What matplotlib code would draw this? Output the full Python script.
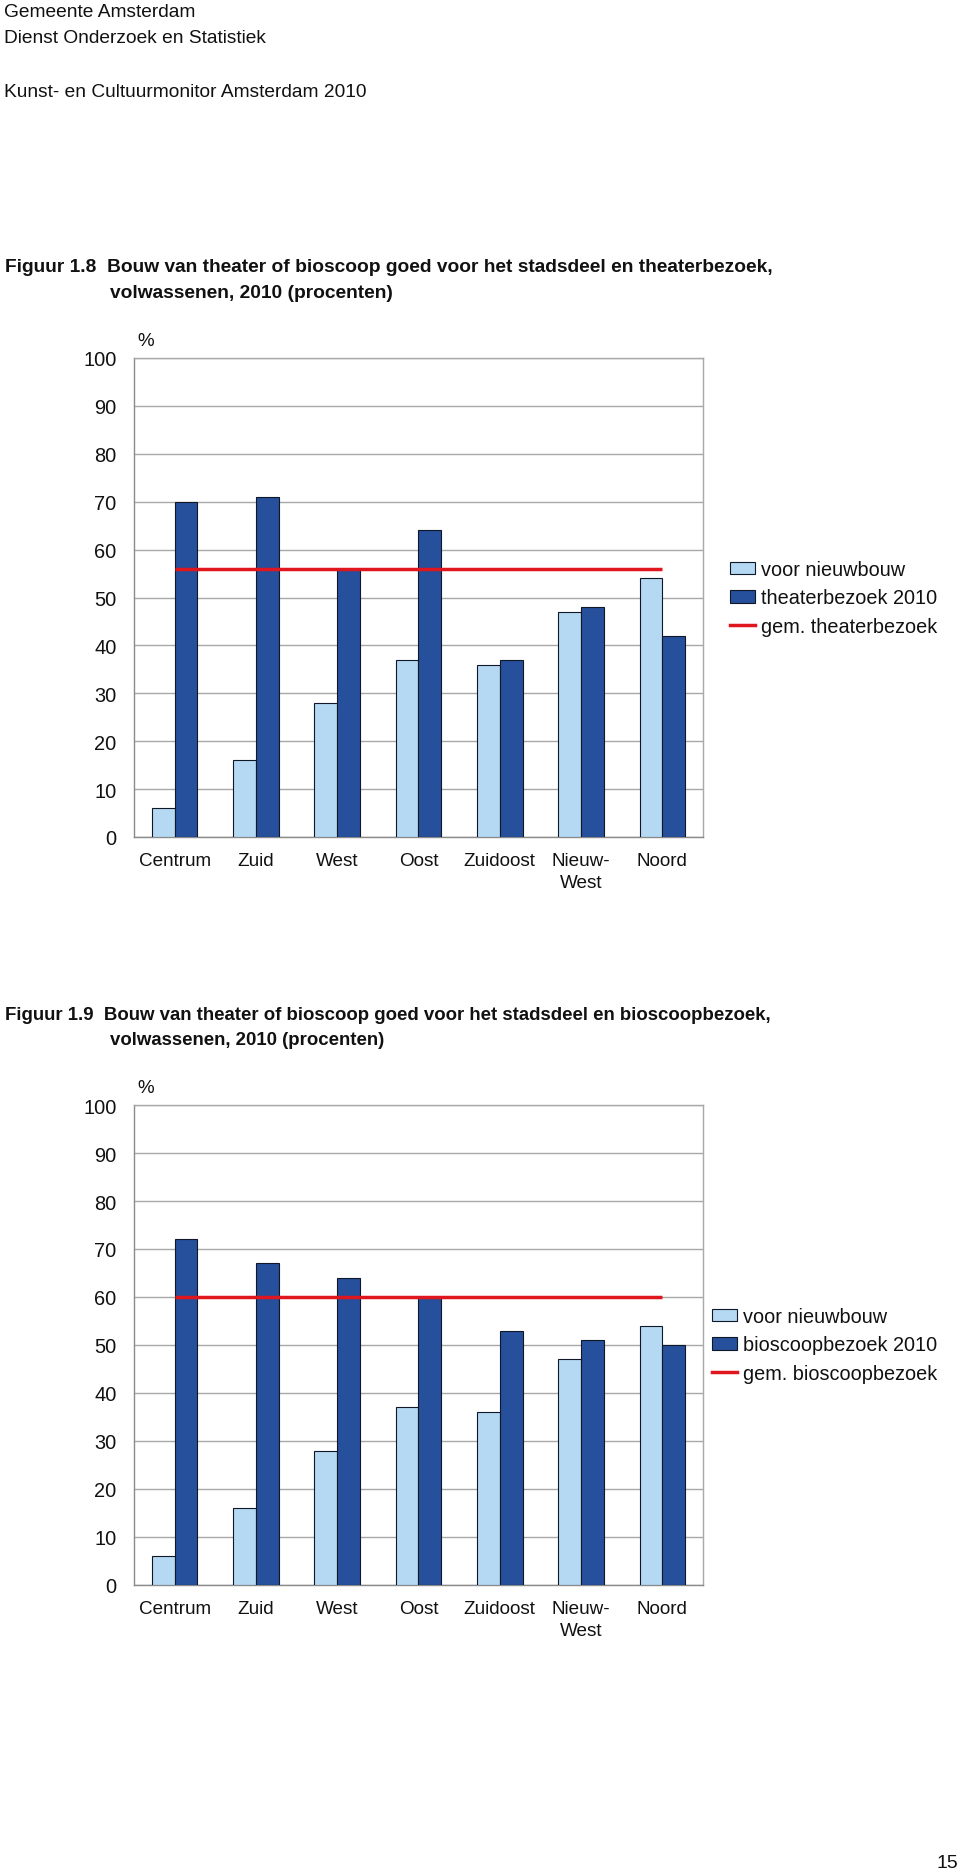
import matplotlib
matplotlib.use('Agg')
import matplotlib.pyplot as plt
from matplotlib.patches import Patch
from matplotlib.lines import Line2D
from matplotlib import font_manager as fm
import numpy as np

# ---------------- data ----------------
categories = ['Centrum', 'Zuid', 'West', 'Oost', 'Zuidoost', 'Nieuw-\nWest', 'Noord']
voor_nieuwbouw_1 = [6, 16, 28, 37, 36, 47, 54]
theaterbezoek_2010 = [70, 71, 56, 64, 37, 48, 42]
gem_theaterbezoek = 56
voor_nieuwbouw_2 = [6, 16, 28, 37, 36, 47, 54]
bioscoopbezoek_2010 = [72, 67, 64, 60, 53, 51, 50]
gem_bioscoopbezoek = 60
y_ticks = [0, 10, 20, 30, 40, 50, 60, 70, 80, 90, 100]

header_lines = ['Gemeente Amsterdam', 'Dienst Onderzoek en Statistiek',
                'Kunst- en Cultuurmonitor Amsterdam 2010']
title1 = ['Figuur 1.8  Bouw van theater of bioscoop goed voor het stadsdeel en theaterbezoek,',
          'volwassenen, 2010 (procenten)']
title2 = ['Figuur 1.9  Bouw van theater of bioscoop goed voor het stadsdeel en bioscoopbezoek,',
          'volwassenen, 2010 (procenten)']
legend1 = ['voor nieuwbouw', 'theaterbezoek 2010', 'gem. theaterbezoek']
legend2 = ['voor nieuwbouw', 'bioscoopbezoek 2010', 'gem. bioscoopbezoek']

# ---------------- style ----------------
W, H = 960, 1874
LIGHT = '#b5d8f3'
DARK = '#26509c'
EDGE = '#101828'
RED = '#e0161e'
GRID = '#a8a8a8'
FONT = ['Liberation Sans', 'DejaVu Sans']
names = {f.name for f in fm.fontManager.ttflist}
NARROW = ['Liberation Sans Narrow', 'Liberation Sans'] if 'Liberation Sans Narrow' in names else FONT

plt.rcParams['font.family'] = FONT

fig = plt.figure(figsize=(W / 100, H / 100), dpi=100)
fig.patch.set_facecolor('white')


def fy(py):
    return 1 - py / H


def fx(px):
    return px / W


# header
for txt, base in zip(header_lines, [17, 43, 97]):
    fig.text(fx(4), fy(base), txt, fontsize=13.75, va='baseline', ha='left', color='#111111')

fig.text(fx(958), fy(1868), '15', fontsize=14, va='baseline', ha='right', color='#111111')


def fit_title(lines, base1, base2):
    t1 = fig.text(fx(5), fy(base1), lines[0], fontsize=13.4, fontweight='bold',
                  family=NARROW, va='baseline', ha='left', color='#111111')
    fig.canvas.draw()
    bb = t1.get_window_extent()
    fs = 13.4 * 767.0 / bb.width
    fs = min(fs, 13.9)
    t1.set_fontsize(fs)
    fig.text(fx(110), fy(base2), lines[1], fontsize=fs, fontweight='bold',
             family=NARROW, va='baseline', ha='left', color='#111111')


def make_chart(top, bottom, light_vals, dark_vals, avg, labels, leg_left, leg_center):
    ax = fig.add_axes([fx(134), fy(bottom), (703 - 134) / W, (bottom - top) / H])
    x = np.arange(len(categories))
    w = 0.28
    ax.bar(x - w / 2, light_vals, w, color=LIGHT, edgecolor=EDGE, linewidth=0.8, zorder=3)
    ax.bar(x + w / 2, dark_vals, w, color=DARK, edgecolor=EDGE, linewidth=0.8, zorder=3)
    ax.plot([x[0], x[-1]], [avg, avg], color=RED, lw=2.5, zorder=4, solid_capstyle='butt')
    ax.set_xlim(-0.5, len(categories) - 0.5)
    ax.set_ylim(0, 100)
    ax.set_yticks(y_ticks)
    ax.set_yticklabels([str(v) for v in y_ticks])
    ax.grid(axis='y', color=GRID, lw=1.0, zorder=0)
    ax.set_axisbelow(True)
    ax.set_xticks(x)
    ax.set_xticklabels(categories, fontsize=13.6, linespacing=1.4)
    ax.tick_params(axis='x', length=0, pad=11, colors='#111111')
    ax.tick_params(axis='y', length=0, pad=12.5, labelsize=14.4, colors='#111111')
    for s in ['left', 'bottom']:
        ax.spines[s].set_color('#8a8a8a')
        ax.spines[s].set_linewidth(1.0)
    for s in ['top', 'right']:
        ax.spines[s].set_color('#a8a8a8')
        ax.spines[s].set_linewidth(1.0)
    fig.text(fx(137), fy(top - 17), '%', fontsize=13.5, va='center', ha='left', color='#111111')

    handles = [Patch(facecolor=LIGHT, edgecolor=EDGE, linewidth=0.8),
               Patch(facecolor=DARK, edgecolor=EDGE, linewidth=0.8),
               Line2D([0], [0], color=RED, lw=2.5)]
    ax.legend(handles, labels, loc='center left',
              bbox_to_anchor=(fx(leg_left), fy(leg_center)), bbox_transform=fig.transFigure,
              frameon=False, fontsize=14.3, borderpad=0, borderaxespad=0,
              handlelength=1.25, handleheight=0.58, handletextpad=0.3,
              labelspacing=0.48, labelcolor='#111111')
    return ax


fit_title(title1, 271.5, 297.5)
make_chart(359, 838, voor_nieuwbouw_1, theaterbezoek_2010, gem_theaterbezoek, legend1, 730, 599)

fit_title(title2, 1020, 1045)
make_chart(1106, 1586, voor_nieuwbouw_2, bioscoopbezoek_2010, gem_bioscoopbezoek, legend2, 712, 1346)

fig.savefig('out.png', dpi=100, facecolor='white')
